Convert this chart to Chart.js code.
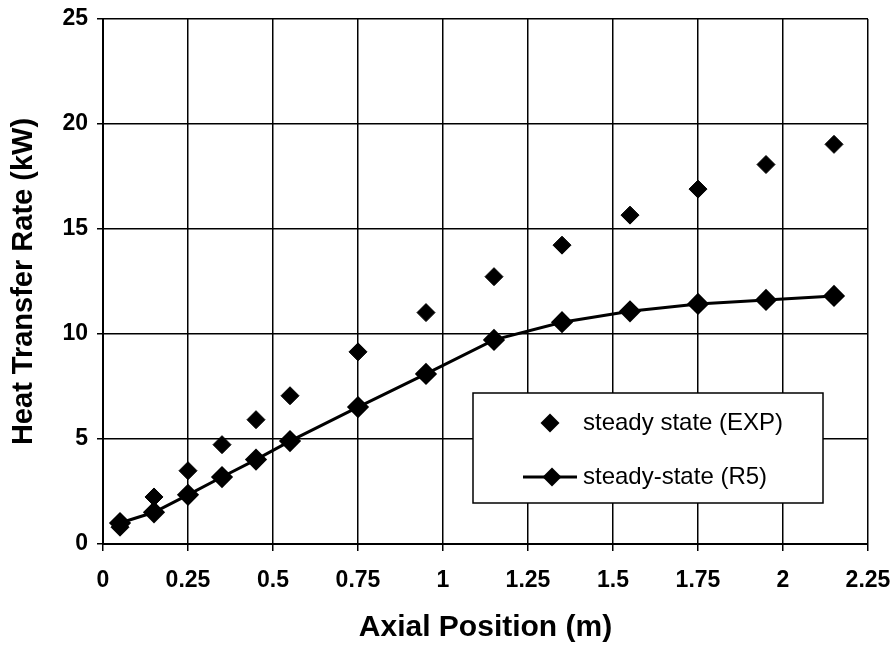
<!DOCTYPE html>
<html>
<head>
<meta charset="utf-8">
<script src="https://cdn.jsdelivr.net/npm/chart.js@4/dist/chart.umd.min.js"></script>
<style>
  html, body { margin: 0; padding: 0; background: #fff; }
  #wrap { width: 896px; height: 651px; }
</style>
</head>
<body>
<div id="wrap"><canvas id="c" width="896" height="651"></canvas></div>
<script>
// ---- data ----
const axialPositions = [0.05, 0.15, 0.25, 0.35, 0.45, 0.55, 0.75, 0.95, 1.15, 1.35, 1.55, 1.75, 1.95, 2.15];
const steadyStateExp = [0.8, 2.24, 3.49, 4.73, 5.92, 7.06, 9.15, 11.02, 12.73, 14.23, 15.66, 16.9, 18.07, 19.03];
const steadyStateR5  = [1.0, 1.51, 2.34, 3.19, 4.02, 4.90, 6.52, 8.10, 9.72, 10.56, 11.08, 11.43, 11.62, 11.81];
const xTickValues = [0, 0.25, 0.5, 0.75, 1, 1.25, 1.5, 1.75, 2, 2.25];
const xTickLabels = ['0', '0.25', '0.5', '0.75', '1', '1.25', '1.5', '1.75', '2', '2.25'];
const yTickLabels = ['0', '5', '10', '15', '20', '25'];
const seriesLabels = ['steady state (EXP)', 'steady-state (R5)'];
const xTitle = 'Axial Position (m)';
const yTitle = 'Heat Transfer Rate (kW)';

const FONT = "'Liberation Sans', Arial, Helvetica, sans-serif";

function diamond(ctx, x, y, r) {
  ctx.beginPath();
  ctx.moveTo(x, y - r);
  ctx.lineTo(x + r, y);
  ctx.lineTo(x, y + r);
  ctx.lineTo(x - r, y);
  ctx.closePath();
  ctx.fill();
}

const legendPlugin = {
  id: 'boxLegend',
  afterDatasetsDraw(chart) {
    const ctx = chart.ctx;
    const ca = chart.chartArea;
    const left = ca.left + 370, top = ca.top + 374, w = 350, h = 110;
    ctx.save();
    ctx.fillStyle = '#fff';
    ctx.fillRect(left, top, w, h);
    ctx.strokeStyle = '#000';
    ctx.lineWidth = 1.5;
    ctx.strokeRect(left, top, w, h);
    ctx.fillStyle = '#000';
    ctx.font = '24px ' + FONT;
    ctx.textBaseline = 'middle';
    ctx.textAlign = 'left';
    const ds = chart.data.datasets;
    const y1 = top + 30, y2 = top + 84;
    diamond(ctx, left + 77, y1, 9.5);
    ctx.fillText(ds[0].label, left + 110, y1);
    ctx.beginPath();
    ctx.lineWidth = 3;
    ctx.moveTo(left + 50, y2);
    ctx.lineTo(left + 104, y2);
    ctx.stroke();
    diamond(ctx, left + 79, y2, 9.5);
    ctx.fillText(ds[1].label, left + 110, y2);
    ctx.restore();
  }
};

new Chart(document.getElementById('c'), {
  type: 'scatter',
  data: {
    datasets: [
      {
        label: seriesLabels[0],
        data: axialPositions.map((x, i) => ({ x: x, y: steadyStateExp[i] })),
        showLine: false,
        pointStyle: 'rectRot',
        pointRadius: 9,
        pointHoverRadius: 9,
        backgroundColor: '#000',
        borderColor: '#000',
        borderWidth: 1
      },
      {
        label: seriesLabels[1],
        data: axialPositions.map((x, i) => ({ x: x, y: steadyStateR5[i] })),
        showLine: true,
        tension: 0,
        pointStyle: 'rectRot',
        pointRadius: 9,
        pointHoverRadius: 9,
        backgroundColor: '#000',
        borderColor: '#000',
        borderWidth: 3
      }
    ]
  },
  options: {
    responsive: false,
    animation: false,
    layout: { padding: { left: 0, right: 28, top: 19, bottom: 0 } },
    plugins: {
      legend: { display: false },
      tooltip: { enabled: false }
    },
    scales: {
      x: {
        type: 'linear',
        min: 0,
        max: 2.25,
        afterFit(scale) { scale.height = 107; scale.paddingLeft = 0; scale.paddingRight = 0; },
        afterBuildTicks(scale) { scale.ticks = xTickValues.map(v => ({ value: v })); },
        ticks: {
          color: '#000',
          font: { family: FONT, size: 23, weight: 'bold' },
          padding: 16,
          maxRotation: 0,
          autoSkip: false,
          callback: (v) => { const i = xTickValues.indexOf(v); return i >= 0 ? xTickLabels[i] : ''; }
        },
        grid: { color: '#000', lineWidth: 1.5, tickLength: 7, tickColor: '#000', tickWidth: 1.5 },
        border: { color: '#000', width: 2 },
        title: {
          display: true,
          text: xTitle,
          color: '#000',
          font: { family: FONT, size: 30, weight: 'bold' },
          padding: { top: 0, bottom: 5 }
        }
      },
      y: {
        type: 'linear',
        min: 0,
        max: 25,
        afterFit(scale) { scale.width = 103; scale.paddingTop = 0; scale.paddingBottom = 0; },
        ticks: {
          stepSize: 5,
          color: '#000',
          font: { family: FONT, size: 23, weight: 'bold' },
          padding: 9,
          callback: (v) => { const i = v / 5; return Number.isInteger(i) ? yTickLabels[i] : ''; }
        },
        grid: { color: '#000', lineWidth: 1.5, tickLength: 6, tickColor: '#000', tickWidth: 1.5 },
        border: { color: '#000', width: 2 },
        title: {
          display: true,
          text: yTitle,
          color: '#000',
          font: { family: FONT, size: 29, weight: 'bold' },
          padding: { top: 7, bottom: 0 }
        }
      }
    }
  },
  plugins: [legendPlugin]
});
</script>
</body>
</html>
